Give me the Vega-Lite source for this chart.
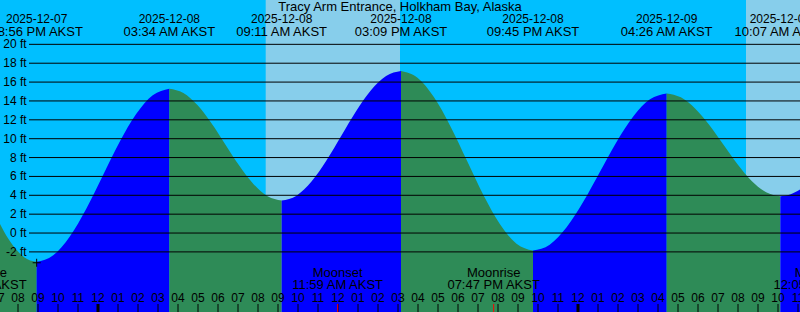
{
  "$schema": "https://vega.github.io/schema/vega-lite/v6.json",
  "width": 800,
  "height": 312,
  "padding": 0,
  "autosize": "none",
  "background": "#00BFFF",
  "config": {
    "view": {"stroke": null},
    "text": {"font": "Liberation Sans", "fontSize": 12, "color": "black", "baseline": "middle", "align": "center"}
  },
  "datasets": {
    "sun": [{"start": 32.385, "end": 39.1}, {"start": 56.4, "end": 62}],
    "tide": [
      {"h": 19.0, "ft": 1.37, "seg": "A", "phase": "ebb"},
      {"h": 19.5, "ft": -0.54, "seg": "A", "phase": "ebb"},
      {"h": 20.0, "ft": -1.96, "seg": "A", "phase": "ebb"},
      {"h": 20.5, "ft": -2.81, "seg": "A", "phase": "ebb"},
      {"h": 20.933, "ft": -3.05, "seg": "A", "phase": "ebb"},
      {"h": 20.933, "ft": -3.05, "seg": "B", "phase": "flood"},
      {"h": 21.762, "ft": -2.35, "seg": "B", "phase": "flood"},
      {"h": 22.591, "ft": -0.36, "seg": "B", "phase": "flood"},
      {"h": 23.421, "ft": 2.61, "seg": "B", "phase": "flood"},
      {"h": 24.25, "ft": 6.13, "seg": "B", "phase": "flood"},
      {"h": 25.079, "ft": 9.64, "seg": "B", "phase": "flood"},
      {"h": 25.908, "ft": 12.61, "seg": "B", "phase": "flood"},
      {"h": 26.738, "ft": 14.6, "seg": "B", "phase": "flood"},
      {"h": 27.567, "ft": 15.3, "seg": "B", "phase": "flood"},
      {"h": 27.567, "ft": 15.3, "seg": "C", "phase": "ebb"},
      {"h": 28.269, "ft": 14.85, "seg": "C", "phase": "ebb"},
      {"h": 28.971, "ft": 13.56, "seg": "C", "phase": "ebb"},
      {"h": 29.673, "ft": 11.64, "seg": "C", "phase": "ebb"},
      {"h": 30.375, "ft": 9.37, "seg": "C", "phase": "ebb"},
      {"h": 31.077, "ft": 7.1, "seg": "C", "phase": "ebb"},
      {"h": 31.779, "ft": 5.18, "seg": "C", "phase": "ebb"},
      {"h": 32.481, "ft": 3.89, "seg": "C", "phase": "ebb"},
      {"h": 33.183, "ft": 3.44, "seg": "C", "phase": "ebb"},
      {"h": 33.183, "ft": 3.44, "seg": "D", "phase": "flood"},
      {"h": 33.929, "ft": 3.96, "seg": "D", "phase": "flood"},
      {"h": 34.675, "ft": 5.45, "seg": "D", "phase": "flood"},
      {"h": 35.421, "ft": 7.68, "seg": "D", "phase": "flood"},
      {"h": 36.167, "ft": 10.31, "seg": "D", "phase": "flood"},
      {"h": 36.912, "ft": 12.93, "seg": "D", "phase": "flood"},
      {"h": 37.658, "ft": 15.16, "seg": "D", "phase": "flood"},
      {"h": 38.404, "ft": 16.65, "seg": "D", "phase": "flood"},
      {"h": 39.15, "ft": 17.17, "seg": "D", "phase": "flood"},
      {"h": 39.15, "ft": 17.17, "seg": "E", "phase": "ebb"},
      {"h": 39.975, "ft": 16.45, "seg": "E", "phase": "ebb"},
      {"h": 40.8, "ft": 14.38, "seg": "E", "phase": "ebb"},
      {"h": 41.625, "ft": 11.3, "seg": "E", "phase": "ebb"},
      {"h": 42.45, "ft": 7.66, "seg": "E", "phase": "ebb"},
      {"h": 43.275, "ft": 4.01, "seg": "E", "phase": "ebb"},
      {"h": 44.1, "ft": 0.93, "seg": "E", "phase": "ebb"},
      {"h": 44.925, "ft": -1.13, "seg": "E", "phase": "ebb"},
      {"h": 45.75, "ft": -1.86, "seg": "E", "phase": "ebb"},
      {"h": 45.75, "ft": -1.86, "seg": "F", "phase": "flood"},
      {"h": 46.585, "ft": -1.23, "seg": "F", "phase": "flood"},
      {"h": 47.421, "ft": 0.58, "seg": "F", "phase": "flood"},
      {"h": 48.256, "ft": 3.28, "seg": "F", "phase": "flood"},
      {"h": 49.092, "ft": 6.47, "seg": "F", "phase": "flood"},
      {"h": 49.927, "ft": 9.66, "seg": "F", "phase": "flood"},
      {"h": 50.762, "ft": 12.36, "seg": "F", "phase": "flood"},
      {"h": 51.598, "ft": 14.17, "seg": "F", "phase": "flood"},
      {"h": 52.433, "ft": 14.8, "seg": "F", "phase": "flood"},
      {"h": 52.433, "ft": 14.8, "seg": "G", "phase": "ebb"},
      {"h": 53.144, "ft": 14.38, "seg": "G", "phase": "ebb"},
      {"h": 53.854, "ft": 13.2, "seg": "G", "phase": "ebb"},
      {"h": 54.565, "ft": 11.44, "seg": "G", "phase": "ebb"},
      {"h": 55.275, "ft": 9.35, "seg": "G", "phase": "ebb"},
      {"h": 55.986, "ft": 7.27, "seg": "G", "phase": "ebb"},
      {"h": 56.696, "ft": 5.5, "seg": "G", "phase": "ebb"},
      {"h": 57.407, "ft": 4.32, "seg": "G", "phase": "ebb"},
      {"h": 58.117, "ft": 3.9, "seg": "G", "phase": "ebb"},
      {"h": 58.117, "ft": 3.9, "seg": "H", "phase": "flood"},
      {"h": 58.6, "ft": 4.09, "seg": "H", "phase": "flood"},
      {"h": 59.2, "ft": 4.75, "seg": "H", "phase": "flood"}
    ],
    "grid": [
      {"ft": -2, "label": "-2 ft"}, {"ft": 0, "label": "0 ft"}, {"ft": 2, "label": "2 ft"},
      {"ft": 4, "label": "4 ft"}, {"ft": 6, "label": "6 ft"}, {"ft": 8, "label": "8 ft"},
      {"ft": 10, "label": "10 ft"}, {"ft": 12, "label": "12 ft"}, {"ft": 14, "label": "14 ft"},
      {"ft": 16, "label": "16 ft"}, {"ft": 18, "label": "18 ft"}, {"ft": 20, "label": "20 ft"}
    ],
    "extremes": [
      {"h": 20.933, "date": "2025-12-07", "time": "08:56 PM AKST"},
      {"h": 27.567, "date": "2025-12-08", "time": "03:34 AM AKST"},
      {"h": 33.183, "date": "2025-12-08", "time": "09:11 AM AKST"},
      {"h": 39.15, "date": "2025-12-08", "time": "03:09 PM AKST"},
      {"h": 45.75, "date": "2025-12-08", "time": "09:45 PM AKST"},
      {"h": 52.433, "date": "2025-12-09", "time": "04:26 AM AKST"},
      {"h": 58.117, "date": "2025-12-09", "time": "10:07 AM AKST"}
    ],
    "moon": [
      {"h": 18.117, "event": "Moonrise", "time": "06:07 PM AKST"},
      {"h": 35.983, "event": "Moonset", "time": "11:59 AM AKST"},
      {"h": 43.783, "event": "Moonrise", "time": "07:47 PM AKST"},
      {"h": 60.083, "event": "Moonset", "time": "12:05 PM AKST"}
    ],
    "hours": [
      {"h": 19, "label": "07"}, {"h": 20, "label": "08"}, {"h": 21, "label": "09"}, {"h": 22, "label": "10"},
      {"h": 23, "label": "11"}, {"h": 24, "label": "12"}, {"h": 25, "label": "01"}, {"h": 26, "label": "02"},
      {"h": 27, "label": "03"}, {"h": 28, "label": "04"}, {"h": 29, "label": "05"}, {"h": 30, "label": "06"},
      {"h": 31, "label": "07"}, {"h": 32, "label": "08"}, {"h": 33, "label": "09"}, {"h": 34, "label": "10"},
      {"h": 35, "label": "11"}, {"h": 36, "label": "12"}, {"h": 37, "label": "01"}, {"h": 38, "label": "02"},
      {"h": 39, "label": "03"}, {"h": 40, "label": "04"}, {"h": 41, "label": "05"}, {"h": 42, "label": "06"},
      {"h": 43, "label": "07"}, {"h": 44, "label": "08"}, {"h": 45, "label": "09"}, {"h": 46, "label": "10"},
      {"h": 47, "label": "11"}, {"h": 48, "label": "12"}, {"h": 49, "label": "01"}, {"h": 50, "label": "02"},
      {"h": 51, "label": "03"}, {"h": 52, "label": "04"}, {"h": 53, "label": "05"}, {"h": 54, "label": "06"},
      {"h": 55, "label": "07"}, {"h": 56, "label": "08"}, {"h": 57, "label": "09"}, {"h": 58, "label": "10"},
      {"h": 59, "label": "11"}, {"h": 60, "label": "12"}
    ],
    "marker": [{"h": 20.933, "ft": -3.15}]
  },
  "layer": [
    {
      "data": {"name": "sun"},
      "mark": {"type": "rect", "color": "#87CEEB", "clip": true},
      "encoding": {
        "x": {"field": "start", "type": "quantitative", "scale": {"domain": [19.1, 59.1], "nice": false, "zero": false}, "axis": null},
        "x2": {"field": "end"},
        "y": {"datum": 24.7, "type": "quantitative", "scale": {"domain": [-8.37, 24.7], "nice": false, "zero": false}, "axis": null},
        "y2": {"datum": -8.37}
      }
    },
    {
      "data": {"name": "tide"},
      "mark": {"type": "area", "interpolate": "monotone", "clip": true},
      "encoding": {
        "x": {"field": "h", "type": "quantitative", "scale": {"domain": [19.1, 59.1], "nice": false, "zero": false}, "axis": null},
        "y": {"field": "ft", "type": "quantitative", "scale": {"domain": [-8.37, 24.7], "nice": false, "zero": false}, "axis": null},
        "y2": {"datum": -8.37},
        "color": {"field": "phase", "type": "nominal", "scale": {"domain": ["flood", "ebb"], "range": ["#0000FF", "#2E8B57"]}, "legend": null},
        "detail": {"field": "seg"}
      }
    },
    {
      "data": {"name": "grid"},
      "mark": {"type": "rule", "color": "black", "strokeWidth": 1, "clip": true},
      "encoding": {
        "x": {"datum": 20.55, "type": "quantitative", "scale": {"domain": [19.1, 59.1], "nice": false, "zero": false}, "axis": null},
        "x2": {"datum": 59.1},
        "y": {"field": "ft", "type": "quantitative", "scale": {"domain": [-8.37, 24.7], "nice": false, "zero": false}, "axis": null}
      }
    },
    {
      "data": {"name": "grid"},
      "mark": {"type": "text", "align": "right", "clip": true},
      "encoding": {
        "x": {"datum": 20.435, "type": "quantitative", "scale": {"domain": [19.1, 59.1], "nice": false, "zero": false}, "axis": null},
        "y": {"field": "ft", "type": "quantitative", "scale": {"domain": [-8.37, 24.7], "nice": false, "zero": false}, "axis": null},
        "text": {"field": "label"}
      }
    },
    {
      "data": {"values": [{"title": "Tracy Arm Entrance, Holkham Bay, Alaska"}]},
      "mark": {"type": "text", "fontSize": 13, "clip": true},
      "encoding": {
        "x": {"datum": 39.1, "type": "quantitative", "scale": {"domain": [19.1, 59.1], "nice": false, "zero": false}, "axis": null},
        "y": {"datum": 23.93, "type": "quantitative", "scale": {"domain": [-8.37, 24.7], "nice": false, "zero": false}, "axis": null},
        "text": {"field": "title"}
      }
    },
    {
      "data": {"name": "extremes"},
      "mark": {"type": "text", "clip": true},
      "encoding": {
        "x": {"field": "h", "type": "quantitative", "scale": {"domain": [19.1, 59.1], "nice": false, "zero": false}, "axis": null},
        "y": {"datum": 22.69, "type": "quantitative", "scale": {"domain": [-8.37, 24.7], "nice": false, "zero": false}, "axis": null},
        "text": {"field": "date"}
      }
    },
    {
      "data": {"name": "extremes"},
      "mark": {"type": "text", "fontSize": 13, "clip": true},
      "encoding": {
        "x": {"field": "h", "type": "quantitative", "scale": {"domain": [19.1, 59.1], "nice": false, "zero": false}, "axis": null},
        "y": {"datum": 21.34, "type": "quantitative", "scale": {"domain": [-8.37, 24.7], "nice": false, "zero": false}, "axis": null},
        "text": {"field": "time"}
      }
    },
    {
      "data": {"name": "moon"},
      "mark": {"type": "text", "fontSize": 13, "clip": true},
      "encoding": {
        "x": {"field": "h", "type": "quantitative", "scale": {"domain": [19.1, 59.1], "nice": false, "zero": false}, "axis": null},
        "y": {"datum": -4.27, "type": "quantitative", "scale": {"domain": [-8.37, 24.7], "nice": false, "zero": false}, "axis": null},
        "text": {"field": "event"}
      }
    },
    {
      "data": {"name": "moon"},
      "mark": {"type": "text", "fontSize": 13, "clip": true},
      "encoding": {
        "x": {"field": "h", "type": "quantitative", "scale": {"domain": [19.1, 59.1], "nice": false, "zero": false}, "axis": null},
        "y": {"datum": -5.51, "type": "quantitative", "scale": {"domain": [-8.37, 24.7], "nice": false, "zero": false}, "axis": null},
        "text": {"field": "time"}
      }
    },
    {
      "data": {"name": "hours"},
      "mark": {"type": "text", "clip": true},
      "encoding": {
        "x": {"field": "h", "type": "quantitative", "scale": {"domain": [19.1, 59.1], "nice": false, "zero": false}, "axis": null},
        "y": {"datum": -6.855, "type": "quantitative", "scale": {"domain": [-8.37, 24.7], "nice": false, "zero": false}, "axis": null},
        "text": {"field": "label"}
      }
    },
    {
      "data": {"name": "hours"},
      "transform": [{"filter": "datum.h != 24 && datum.h != 48"}],
      "mark": {"type": "rule", "color": "black", "strokeWidth": 1, "clip": true},
      "encoding": {
        "x": {"field": "h", "type": "quantitative", "scale": {"domain": [19.1, 59.1], "nice": false, "zero": false}, "axis": null},
        "y": {"datum": -7.52, "type": "quantitative", "scale": {"domain": [-8.37, 24.7], "nice": false, "zero": false}, "axis": null},
        "y2": {"datum": -8.37}
      }
    },
    {
      "data": {"name": "hours"},
      "transform": [{"filter": "datum.h == 24 || datum.h == 48"}],
      "mark": {"type": "rule", "color": "black", "strokeWidth": 3, "clip": true},
      "encoding": {
        "x": {"field": "h", "type": "quantitative", "scale": {"domain": [19.1, 59.1], "nice": false, "zero": false}, "axis": null},
        "y": {"datum": -7.52, "type": "quantitative", "scale": {"domain": [-8.37, 24.7], "nice": false, "zero": false}, "axis": null},
        "y2": {"datum": -8.37}
      }
    },
    {
      "data": {"name": "moon"},
      "mark": {"type": "rule", "color": "#FF0000", "strokeWidth": 1, "clip": true},
      "encoding": {
        "x": {"field": "h", "type": "quantitative", "scale": {"domain": [19.1, 59.1], "nice": false, "zero": false}, "axis": null},
        "y": {"datum": -7.52, "type": "quantitative", "scale": {"domain": [-8.37, 24.7], "nice": false, "zero": false}, "axis": null},
        "y2": {"datum": -8.37}
      }
    },
    {
      "data": {"name": "marker"},
      "mark": {"type": "point", "shape": "M-1,0H1M0,-1V1", "size": 64, "filled": false, "stroke": "black", "strokeWidth": 1, "opacity": 1, "clip": true},
      "encoding": {
        "x": {"field": "h", "type": "quantitative", "scale": {"domain": [19.1, 59.1], "nice": false, "zero": false}, "axis": null},
        "y": {"field": "ft", "type": "quantitative", "scale": {"domain": [-8.37, 24.7], "nice": false, "zero": false}, "axis": null}
      }
    }
  ]
}
